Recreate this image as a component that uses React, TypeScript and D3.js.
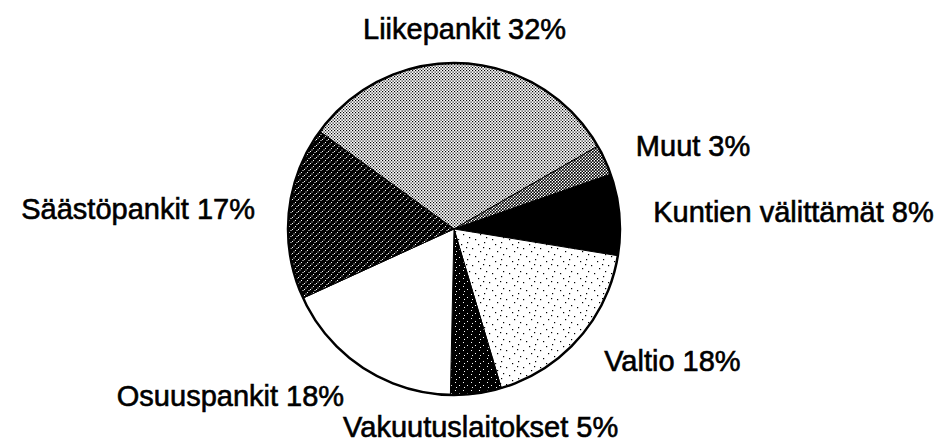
import React, { useEffect, useRef } from 'react';
import * as d3 from 'd3';

const categories = [
  'Liikepankit',
  'Muut',
  'Kuntien välittämät',
  'Valtio',
  'Vakuutuslaitokset',
  'Osuuspankit',
  'Säästöpankit',
];
const shares = [32, 3, 8, 18, 5, 18, 17];
const fills = ['url(#p-light)', 'url(#p-mid)', '#000', 'url(#p-sparse)', 'url(#p-darkdots)', '#fff', 'url(#p-dark)'];

interface Slice {
  name: string;
  value: number;
  fill: string;
}

const slices: Slice[] = categories.map((name, i) => ({ name, value: shares[i], fill: fills[i] }));

export default function App() {
  const svgRef = useRef<SVGSVGElement>(null);

  useEffect(() => {
    document.body.style.margin = '0';
    if (!svgRef.current) return;

    const width = 947;
    const height = 448;
    const cx = 454;
    const cy = 229;
    const radius = 166;
    const labelRadius = 200;

    const svg = d3.select(svgRef.current);
    svg.selectAll('*').remove();

    // halftone-ish fills
    const defs = svg.append('defs');
    const addPattern = (id: string, size: number, bg: string, dot: string, dots: number[][], dotSize: number) => {
      const p = defs.append('pattern')
        .attr('id', id)
        .attr('patternUnits', 'userSpaceOnUse')
        .attr('width', size)
        .attr('height', size);
      p.append('rect').attr('width', size).attr('height', size).attr('fill', bg);
      p.selectAll('rect.dot')
        .data(dots)
        .enter().append('rect')
        .attr('class', 'dot')
        .attr('x', d => d[0])
        .attr('y', d => d[1])
        .attr('width', dotSize)
        .attr('height', dotSize)
        .attr('fill', dot);
    };
    addPattern('p-light', 3, '#fff', '#000', [[0, 0], [1.5, 1.5]], 1.2);
    addPattern('p-mid', 3, '#fff', '#000', [[0, 0], [1.5, 1.5]], 1.7);
    addPattern('p-dark', 6, '#000', '#fff', [[0, 0], [3, 3], [1.5, 4.5], [4.5, 1]], 1);
    addPattern('p-darkdots', 8, '#000', '#fff', [[1, 1], [5, 4], [2, 6]], 1);
    addPattern('p-sparse', 17, '#fff', '#000', [[1, 2], [9, 5], [4, 10], [13, 13], [7, 15], [12, 1], [15, 8]], 1.2);

    const pie = d3.pie<Slice>()
      .value(d => d.value)
      .sort(null)
      .startAngle(-54 * Math.PI / 180)
      .endAngle(-54 * Math.PI / 180 + 2 * Math.PI);

    const arcs = pie(slices);
    const arc = d3.arc<d3.PieArcDatum<Slice>>().innerRadius(0).outerRadius(radius);

    const g = svg.append('g').attr('transform', `translate(${cx},${cy})`);

    g.selectAll('path.slice')
      .data(arcs)
      .enter().append('path')
      .attr('class', 'slice')
      .attr('d', arc)
      .attr('fill', d => d.data.fill)
      .attr('stroke', '#000')
      .attr('stroke-width', 1);

    g.append('circle')
      .attr('r', radius)
      .attr('fill', 'none')
      .attr('stroke', '#000')
      .attr('stroke-width', 2.5);

    // labels around the pie
    g.selectAll('text.label')
      .data(arcs)
      .enter().append('text')
      .attr('class', 'label')
      .attr('x', d => labelRadius * Math.sin((d.startAngle + d.endAngle) / 2))
      .attr('y', d => -labelRadius * Math.cos((d.startAngle + d.endAngle) / 2))
      .attr('dy', '0.35em')
      .attr('text-anchor', d => {
        const s = Math.sin((d.startAngle + d.endAngle) / 2);
        return s > 0.3 ? 'start' : s < -0.3 ? 'end' : 'middle';
      })
      .style('font-family', '"Liberation Sans", Arial, sans-serif')
      .style('font-size', '29px')
      .style('fill', '#000')
      .style('stroke', '#000')
      .style('stroke-width', '0.6px')
      .text(d => `${d.data.name} ${d.data.value}%`);

    svg.attr('width', width).attr('height', height);
  }, []);

  return <svg ref={svgRef} width={947} height={448} style={{ display: 'block', background: '#fff' }} />;
}
